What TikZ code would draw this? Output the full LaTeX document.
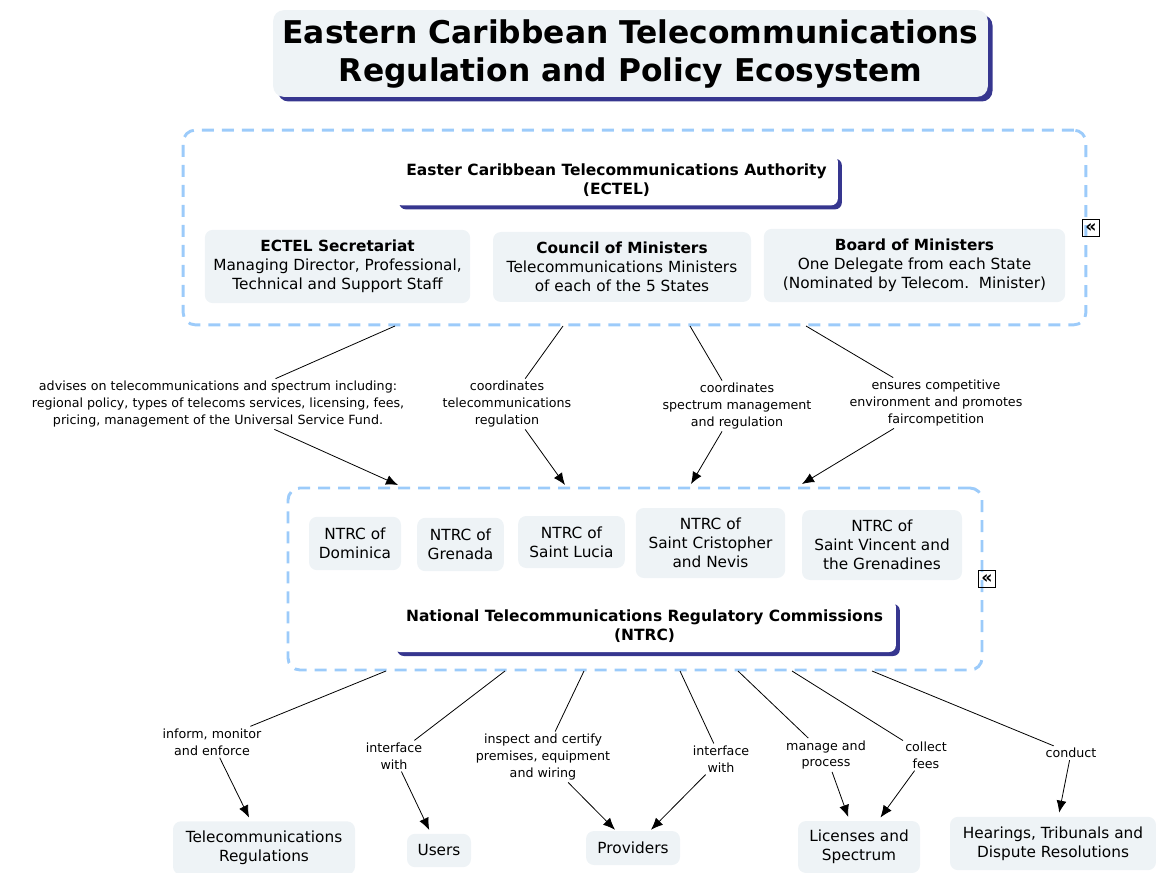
\documentclass[tikz,border=0pt]{standalone}
\usepackage{fontspec}
\setmainfont{DejaVu Sans}
\usetikzlibrary{shadows,arrows.meta}
\definecolor{boxfill}{RGB}{238,243,246}
\definecolor{dashblue}{RGB}{156,203,250}
\definecolor{shadowblue}{RGB}{54,54,143}
\tikzset{
  conc/.style={fill=boxfill, rounded corners=6pt, align=center, inner sep=2pt, font=\fontsize{11.5}{14.25}\selectfont},
  hdr/.style={fill=white, rounded corners=5pt, align=center, inner sep=2pt,
     drop shadow={shadow xshift=3pt, shadow yshift=-3pt, fill=shadowblue, opacity=1},
     font=\bfseries\fontsize{11.6}{14.25}\selectfont},
  grp/.style={draw=dashblue, line width=2.2pt, dash pattern=on 9pt off 6pt, rounded corners=9pt},
  lbl/.style={align=center, inner sep=1.5pt, font=\fontsize{9.5}{12.75}\selectfont},
  conn/.style={line width=0.6pt, draw=black},
  arr/.style={line width=0.6pt, draw=black, -{Latex[length=9pt,width=7.5pt]}},
  icon/.style={draw, line width=0.8pt, inner sep=0pt, minimum size=12.5pt, font=\bfseries\fontsize{13}{13}\selectfont}
}
\begin{document}
\begin{tikzpicture}[x=0.75pt,y=-0.75pt]
\useasboundingbox (0,0) rectangle (1156,873);
% title
\node[fill=boxfill, rounded corners=8pt, align=center, minimum width=536pt, minimum height=65pt,
  drop shadow={shadow xshift=3.5pt, shadow yshift=-3.5pt, fill=shadowblue, opacity=1},
  font=\bfseries\fontsize{23.5}{28.5}\selectfont] (title) at (630.5,53.5)
  {Eastern Caribbean Telecommunications\\Regulation and Policy Ecosystem};
% ECTEL group
\node[grp, minimum width=677pt, minimum height=146pt] (ectelgrp) at (634.5,227.5) {};
\node[hdr, minimum width=332pt, minimum height=38pt] (ectel) at (616.5,180)
  {Easter Caribbean Telecommunications Authority\\(ECTEL)};
\node[conc, minimum width=199pt, minimum height=55pt] (secr) at (337.5,266.5)
  {\textbf{ECTEL Secretariat}\\Managing Director, Professional,\\Technical and Support Staff};
\node[conc, minimum width=193.5pt, minimum height=52.5pt] (council) at (622,267)
  {\textbf{Council of Ministers}\\Telecommunications Ministers\\of each of the 5 States};
\node[conc, minimum width=226pt, minimum height=55pt] (board) at (914.5,265.5)
  {\textbf{Board of Ministers}\\One Delegate from each State\\(Nominated by Telecom.\ \ Minister)};
\node[icon] (icon1) at (1091,228) {«};
% NTRC group
\node[grp, minimum width=520.5pt, minimum height=136.5pt] (ntrcgrp) at (635,579) {};
\node[conc, minimum width=69pt, minimum height=40pt] (dom) at (355,543.5) {NTRC of\\Dominica};
\node[conc, minimum width=65pt, minimum height=40pt] (gren) at (460.5,544.5) {NTRC of\\Grenada};
\node[conc, minimum width=80pt, minimum height=39pt] (lucia) at (571.5,542) {NTRC of\\Saint Lucia};
\node[conc, minimum width=112pt, minimum height=52.5pt] (kitts) at (710.5,543) {NTRC of\\Saint Cristopher\\and Nevis};
\node[conc, minimum width=120pt, minimum height=52.5pt] (vinc) at (882,545) {NTRC of\\Saint Vincent and\\the Grenadines};
\node[icon] (icon2) at (987,579) {«};
\node[hdr, minimum width=377pt, minimum height=39pt] (ntrc) at (644.5,626)
  {National Telecommunications Regulatory Commissions\\(NTRC)};
% bottom concepts
\node[conc, minimum width=136.5pt, minimum height=40pt] (regs) at (264,848) {Telecommunications\\Regulations};
\node[conc, minimum width=48pt, minimum height=25pt] (users) at (439,850.5) {Users};
\node[conc, minimum width=70.5pt, minimum height=25.5pt] (prov) at (633,848) {Providers};
\node[conc, minimum width=91.5pt, minimum height=39pt] (lic) at (859,847) {Licenses and\\Spectrum};
\node[conc, minimum width=154.5pt, minimum height=40pt] (hear) at (1053,843.5) {Hearings, Tribunals and\\Dispute Resolutions};
% top labels
\node[lbl] (l1) at (218,404) {advises on telecommunications and spectrum including:\\regional policy, types of telecoms services, licensing, fees,\\pricing, management of the Universal Service Fund.};
\node[lbl] (l2) at (507,404) {coordinates\\telecommunications\\regulation};
\node[lbl] (l3) at (737,406) {coordinates\\spectrum management\\and regulation};
\node[lbl] (l4) at (936,403) {ensures competitive\\environment and promotes\\faircompetition};
\coordinate (s1) at (395,326);
\coordinate (s2) at (563,326);
\coordinate (s3) at (690,326);
\coordinate (s4) at (806,326);
\coordinate (t1) at (398,485);
\coordinate (t2) at (565,485);
\coordinate (t3) at (691,484);
\coordinate (t4) at (802,484);
\draw[conn] (s1) -- (l1);
\draw[conn] (s2) -- (l2);
\draw[conn] (s3) -- (l3);
\draw[conn] (s4) -- (l4);
\draw[arr] (l1) -- (t1);
\draw[arr] (l2) -- (t2);
\draw[arr] (l3) -- (t3);
\draw[arr] (l4) -- (t4);
% bottom labels
\node[lbl] (b1) at (212,742) {inform, monitor\\and enforce};
\node[lbl] (b2) at (394,756) {interface\\with};
\node[lbl] (b3) at (543,757) {inspect and certify\\premises, equipment\\and wiring};
\node[lbl] (b4) at (721,759) {interface\\with};
\node[lbl] (b5) at (826,755) {manage and\\process};
\node[lbl] (b6) at (926,755) {collect\\fees};
\node[lbl] (b7) at (1071,753) {conduct};
\coordinate (n1) at (386,671);
\coordinate (n2) at (505,671);
\coordinate (n3) at (584,671);
\coordinate (n4) at (680,671);
\coordinate (n5) at (738,671);
\coordinate (n6) at (792,671);
\coordinate (n7) at (872,671);
\draw[conn] (n1) -- (b1);
\draw[conn] (n2) -- (b2);
\draw[conn] (n3) -- (b3);
\draw[conn] (n4) -- (b4);
\draw[conn] (n5) -- (b5);
\draw[conn] (n6) -- (b6);
\draw[conn] (n7) -- (b7);
\draw[arr, shorten >=3pt] (b1) -- (regs);
\draw[arr, shorten >=3pt] (b2) -- (users);
\draw[arr, shorten >=1pt] (b3) -- (prov);
\draw[arr, shorten >=1pt] (b4) -- (prov);
\draw[arr, shorten >=3pt] (b5) -- (lic);
\draw[arr, shorten >=3pt] (b6) -- (lic);
\draw[arr, shorten >=3pt] (b7) -- (hear);
\end{tikzpicture}
\end{document}
